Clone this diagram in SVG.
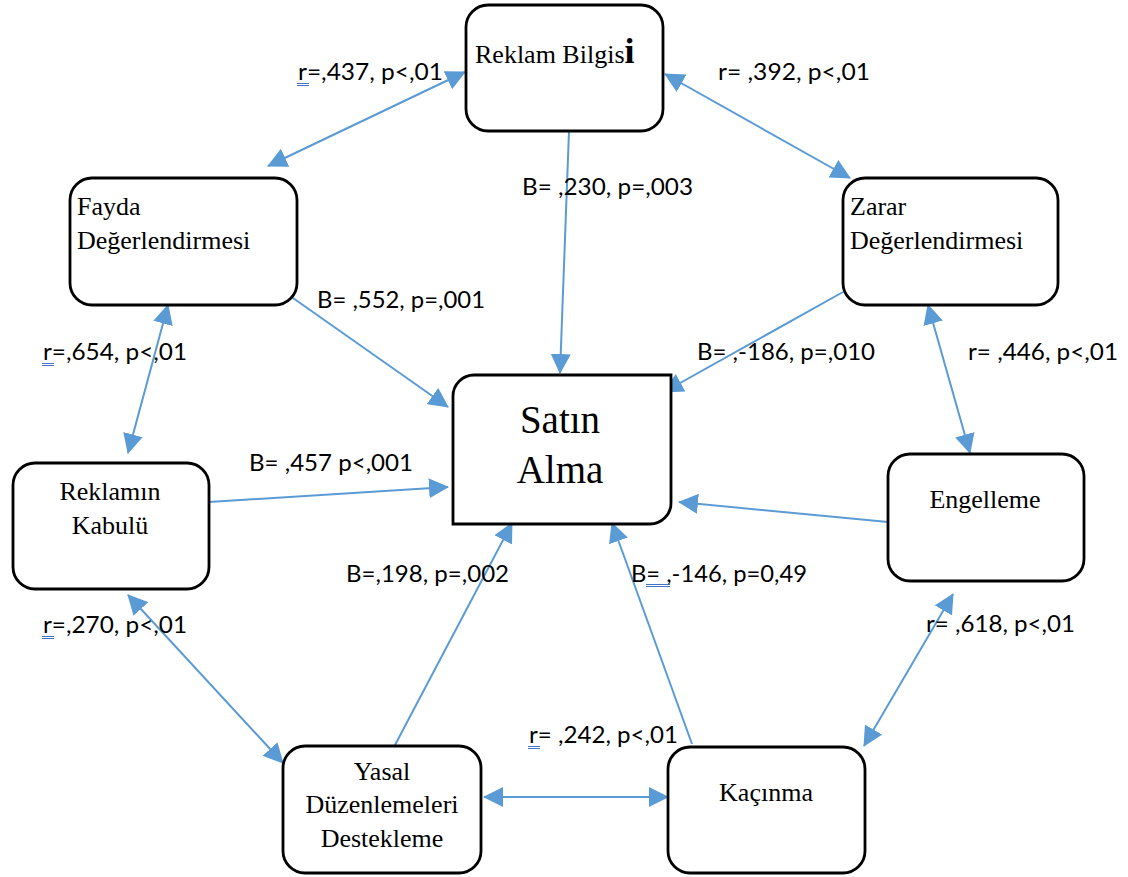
<svg xmlns="http://www.w3.org/2000/svg" width="1128" height="877" viewBox="0 0 1128 877">
<style>
.box{fill:#fff;stroke:#000;stroke-width:2.8}
.nt{font-family:"Liberation Serif","Times New Roman",serif;font-size:26px;fill:#000}
.big{font-size:39px}
.lb{font-family:Lato,"Liberation Sans",sans-serif;font-size:23px;fill:#000}
.c{fill:none;stroke:#5B9BD5;stroke-width:2}
.one{marker-end:url(#ah)}
.two{marker-start:url(#ah);marker-end:url(#ah)}
.ul{stroke:#4472C4;stroke-width:1}
</style>
<defs>
<marker id="ah" markerUnits="userSpaceOnUse" markerWidth="20" markerHeight="20" viewBox="0 0 20 20" refX="19" refY="10" orient="auto-start-reverse">
<path d="M0,0 L20,10 L0,20 Z" fill="#5B9BD5"/>
</marker>
</defs>
<rect width="1128" height="877" fill="#fff"/>
<g id="connectors">
<line class="c two" x1="465" y1="72" x2="268" y2="166"/>
<line class="c two" x1="665" y1="74" x2="850" y2="178"/>
<line class="c one" x1="569" y1="131" x2="560" y2="373"/>
<line class="c one" x1="283" y1="291" x2="448" y2="407"/>
<line class="c one" x1="843" y1="292" x2="664" y2="392"/>
<line class="c two" x1="168" y1="305" x2="128" y2="453"/>
<line class="c two" x1="928" y1="305" x2="970" y2="453"/>
<line class="c one" x1="209" y1="502" x2="448" y2="487"/>
<line class="c one" x1="888" y1="522" x2="679" y2="502"/>
<line class="c one" x1="395" y1="745" x2="512" y2="523"/>
<line class="c one" x1="692" y1="744" x2="612" y2="523"/>
<line class="c two" x1="128" y1="595" x2="283" y2="763"/>
<line class="c two" x1="953" y1="594" x2="864" y2="746"/>
<line class="c two" x1="484" y1="797" x2="668" y2="797"/>
</g>
<g id="labels">
<text class="lb" x="298" y="80" textLength="145" lengthAdjust="spacingAndGlyphs">r=,437, p&lt;,01</text>
<text class="lb" x="718" y="80" textLength="152" lengthAdjust="spacingAndGlyphs">r= ,392, p&lt;,01</text>
<text class="lb" x="522" y="195" textLength="171" lengthAdjust="spacingAndGlyphs">B= ,230, p=,003</text>
<text class="lb" x="317" y="308" textLength="168" lengthAdjust="spacingAndGlyphs">B= ,552, p=,001</text>
<text class="lb" x="43" y="360" textLength="144" lengthAdjust="spacingAndGlyphs">r=,654, p&lt;,01</text>
<text class="lb" x="697" y="360" textLength="178" lengthAdjust="spacingAndGlyphs">B= ,-186, p=,010</text>
<text class="lb" x="968" y="360" textLength="150" lengthAdjust="spacingAndGlyphs">r= ,446, p&lt;,01</text>
<text class="lb" x="249" y="471" textLength="164" lengthAdjust="spacingAndGlyphs">B= ,457 p&lt;,001</text>
<text class="lb" x="346" y="582" textLength="163" lengthAdjust="spacingAndGlyphs">B=,198, p=,002</text>
<text class="lb" x="631" y="582" textLength="176" lengthAdjust="spacingAndGlyphs">B= ,-146, p=0,49</text>
<text class="lb" x="43" y="633" textLength="144" lengthAdjust="spacingAndGlyphs">r=,270, p&lt;,01</text>
<text class="lb" x="926" y="632" textLength="149" lengthAdjust="spacingAndGlyphs">r= ,618, p&lt;,01</text>
<text class="lb" x="529" y="743" textLength="149" lengthAdjust="spacingAndGlyphs">r= ,242, p&lt;,01</text>
<g class="ul">
<line x1="297" y1="83.5" x2="309" y2="83.5"/><line x1="297" y1="85.5" x2="309" y2="85.5"/>
<line x1="42" y1="363.5" x2="54" y2="363.5"/><line x1="42" y1="365.5" x2="54" y2="365.5"/>
<line x1="42" y1="636.5" x2="54" y2="636.5"/><line x1="42" y1="638.5" x2="54" y2="638.5"/>
<line x1="528" y1="746.5" x2="540" y2="746.5"/><line x1="528" y1="748.5" x2="540" y2="748.5"/>
<line x1="646" y1="584.5" x2="670" y2="584.5"/><line x1="646" y1="586.5" x2="670" y2="586.5"/>
</g>
</g>
<g id="reklam-bilgisi">
<rect class="box" x="466" y="5" width="197" height="126" rx="22"/>
<text class="nt" x="475" y="63">Reklam Bilgis<tspan font-size="36" font-weight="bold">i</tspan></text>
</g>
<g id="fayda">
<rect class="box" x="70" y="178" width="227" height="127" rx="22"/>
<text class="nt" x="77" y="215">Fayda</text>
<text class="nt" x="77" y="249">Değerlendirmesi</text>
</g>
<g id="zarar">
<rect class="box" x="843" y="178" width="215" height="127" rx="22"/>
<text class="nt" x="850" y="215">Zarar</text>
<text class="nt" x="850" y="249">Değerlendirmesi</text>
</g>
<g id="satin-alma">
<path class="box" stroke-width="3" d="M474,375 H671 V503 A21,21 0 0 1 650,524 H453 V396 A21,21 0 0 1 474,375 Z"/>
<text class="nt big" x="560" y="433" text-anchor="middle">Satın</text>
<text class="nt big" x="560" y="483" text-anchor="middle">Alma</text>
</g>
<g id="reklamin-kabulu">
<rect class="box" x="13" y="463" width="196" height="126" rx="22"/>
<text class="nt" x="110" y="500" text-anchor="middle">Reklamın</text>
<text class="nt" x="110" y="534" text-anchor="middle">Kabulü</text>
</g>
<g id="engelleme">
<rect class="box" x="888" y="454" width="196" height="127" rx="22"/>
<text class="nt" x="985" y="508" text-anchor="middle">Engelleme</text>
</g>
<g id="yasal">
<rect class="box" x="283" y="746" width="198" height="127" rx="22"/>
<text class="nt" x="382" y="780" text-anchor="middle">Yasal</text>
<text class="nt" x="382" y="813" text-anchor="middle">Düzenlemeleri</text>
<text class="nt" x="382" y="847" text-anchor="middle">Destekleme</text>
</g>
<g id="kacinma">
<rect class="box" x="668" y="747" width="197" height="126" rx="22"/>
<text class="nt" x="766" y="801" text-anchor="middle">Kaçınma</text>
</g>
</svg>
